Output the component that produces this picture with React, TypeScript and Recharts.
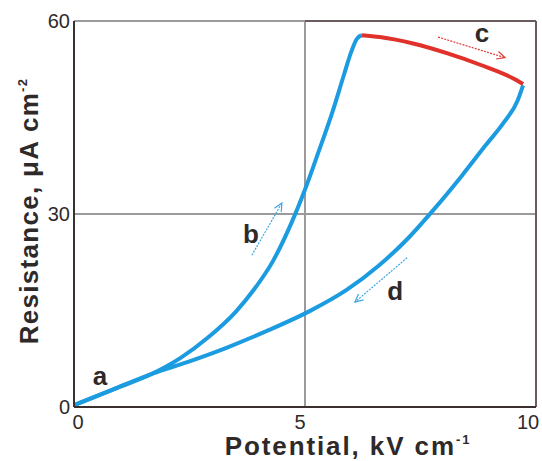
import React from 'react';
import { LineChart, Line, XAxis, YAxis, CartesianGrid, ReferenceLine, ReferenceDot, Label } from 'recharts';

// forward sweep (blue, rising branch "b")
const forwardPotential = [0, 0.8, 1.7, 2.3, 2.9, 3.5, 3.9, 4.3, 4.7, 5.0, 5.3, 5.6, 5.85, 6.0, 6.12, 6.22];
const forwardResistance = [0.3, 2.6, 5.2, 7.6, 10.8, 14.8, 18.3, 22.6, 28.5, 33.8, 39.8, 46.0, 51.8, 55.2, 57.2, 57.8];

// hold at high potential (red, "c")
const holdPotential = [6.22, 6.62, 7.34, 8.07, 8.79, 9.5, 9.72];
const holdResistance = [57.8, 57.5, 56.5, 55.0, 53.2, 51.1, 50.2];

// return sweep (blue, falling branch "d"), stored left to right
const returnPotential = [0, 0.8, 1.7, 2.5, 3.3, 4.2, 5.1, 5.9, 6.6, 7.2, 7.8, 8.4, 8.9, 9.3, 9.6, 9.72];
const returnResistance = [0.3, 2.6, 5.2, 7.1, 9.2, 11.9, 14.9, 18.2, 22.0, 26.0, 30.8, 36.0, 40.6, 44.2, 47.6, 50.0];

const potentialTicks = [0, 5, 10];
const resistanceTicks = [0, 30, 60];

// letter annotations (baseline position in data units)
const noteText = ['a', 'b', 'c', 'd'];
const notePotential = [0.56, 3.83, 8.83, 6.95];
const noteResistance = [3.4, 25.5, 56.7, 16.6];

// direction arrows: [tailX, tailY, headX, headY]
const arrowB = [3.85, 23.6, 4.5, 31.7];
const arrowC = [7.88, 57.5, 9.33, 54.3];
const arrowD = [7.21, 23.2, 6.08, 16.3];

const toPoints = (xs: number[], ys: number[]) => xs.map((x, i) => ({ x, y: ys[i] }));

const forwardData = toPoints(forwardPotential, forwardResistance);
const holdData = toPoints(holdPotential, holdResistance);
const returnData = toPoints(returnPotential, returnResistance);

const BLUE = '#1b9be0';
const RED = '#e0312b';
const FONT = '"Liberation Sans", Arial, sans-serif';
const TEXT = '#2f2a2a';

const xTickShift: Record<number, number> = { 0: 4, 5: -5, 10: -6 };

const XTick = ({ x, y, payload }: any) => (
  <text x={x + (xTickShift[payload.value] ?? 0)} y={y} dy="0.71em" textAnchor="middle"
    fontFamily={FONT} fontSize={20} fill={TEXT}>
    {payload.value}
  </text>
);

const YTick = ({ x, y, payload }: any) => (
  <text x={x} y={y} dy="0.36em" textAnchor="end" fontFamily={FONT} fontSize={20} fill={TEXT}>
    {payload.value}
  </text>
);

const makeArrow = (color: string) => (props: any) => {
  const { x1, y1, x2, y2 } = props;
  const ang = Math.atan2(y2 - y1, x2 - x1);
  const len = 9;
  const spread = 0.45;
  const ax = x2 - len * Math.cos(ang - spread);
  const ay = y2 - len * Math.sin(ang - spread);
  const bx = x2 - len * Math.cos(ang + spread);
  const by = y2 - len * Math.sin(ang + spread);
  return (
    <g>
      <line x1={x1} y1={y1} x2={x2} y2={y2} stroke={color} strokeWidth={1.2} strokeDasharray="2 1.2" />
      <polyline points={`${ax},${ay} ${x2},${y2} ${bx},${by}`} fill="none" stroke={color} strokeWidth={1.2} />
    </g>
  );
};

const NoteShape = (text: string) => (props: any) => (
  <text x={props.cx} y={props.cy} textAnchor="middle" fontFamily={FONT} fontWeight="bold"
    fontSize={26} fill={TEXT}>
    {text}
  </text>
);

const XTitle = (props: any) => {
  const { viewBox } = props;
  return (
    <text x={viewBox.x + viewBox.width / 2 + 43} y={viewBox.y + 48} textAnchor="middle"
      fontFamily={FONT} fontWeight="bold" fontSize={26} fill={TEXT} letterSpacing={1.9}>
      Potential, kV cm<tspan fontSize={13} dy={-11}>-1</tspan>
    </text>
  );
};

const YTitle = (props: any) => {
  const { viewBox } = props;
  const x = viewBox.x + 38;
  const y = viewBox.y + 190;
  return (
    <text x={x} y={y} transform={`rotate(-90, ${x}, ${y})`} textAnchor="middle"
      fontFamily={FONT} fontWeight="bold" fontSize={26} fill={TEXT} letterSpacing={1.3}>
      Resistance, μA cm<tspan fontSize={13} dy={-11}>-2</tspan>
    </text>
  );
};

const arrowSegment = (a: number[]) => [{ x: a[0], y: a[1] }, { x: a[2], y: a[3] }];

export default function App() {
  return (
    <div style={{ position: 'fixed', left: 0, top: 0, width: 542, height: 461, background: '#fff' }}>
      <LineChart width={542} height={461} margin={{ top: 21, right: 6, bottom: 0, left: 0 }}>
        <CartesianGrid stroke="#9c9a9a" strokeWidth={2} />
        <XAxis type="number" dataKey="x" domain={[0, 10]} ticks={potentialTicks} height={54}
          tickLine={false} tickSize={0} tickMargin={8} tick={<XTick />}
          axisLine={{ stroke: '#3a3030', strokeWidth: 2 }}>
          <Label content={<XTitle />} />
        </XAxis>
        <YAxis type="number" dataKey="y" domain={[0, 60]} ticks={resistanceTicks} width={74}
          tickLine={false} tickSize={0} tickMargin={4} tick={<YTick />}
          axisLine={{ stroke: '#3a3030', strokeWidth: 2 }}>
          <Label content={<YTitle />} />
        </YAxis>
        <ReferenceLine x={10} stroke="#6a5c5c" strokeWidth={2} />
        <ReferenceLine segment={[{ x: 5, y: 60 }, { x: 10, y: 60 }]} stroke="#6a5c5c" strokeWidth={2} />

        <Line data={forwardData} dataKey="y" type="monotone" stroke={BLUE} strokeWidth={4}
          dot={false} activeDot={false} isAnimationActive={false} />
        <Line data={returnData} dataKey="y" type="monotone" stroke={BLUE} strokeWidth={4}
          dot={false} activeDot={false} isAnimationActive={false} />
        <Line data={holdData} dataKey="y" type="monotone" stroke={RED} strokeWidth={4}
          dot={false} activeDot={false} isAnimationActive={false} />

        <ReferenceLine segment={arrowSegment(arrowB)} shape={makeArrow('#3fa6e2')} />
        <ReferenceLine segment={arrowSegment(arrowC)} shape={makeArrow('#e03a36')} />
        <ReferenceLine segment={arrowSegment(arrowD)} shape={makeArrow('#3fa6e2')} />

        {noteText.map((t, i) => (
          <ReferenceDot key={t} x={notePotential[i]} y={noteResistance[i]} r={0}
            shape={NoteShape(t)} />
        ))}
      </LineChart>
    </div>
  );
}
